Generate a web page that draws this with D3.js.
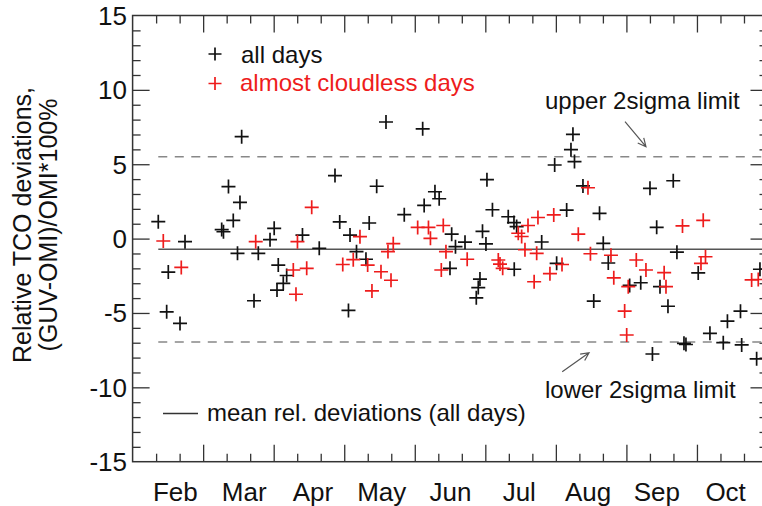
<!DOCTYPE html>
<html><head><meta charset="utf-8">
<script src="https://cdn.jsdelivr.net/npm/d3@7"></script>
<style>
body{margin:0;background:#fff}
svg{display:block}
text{font-family:"Liberation Sans",Arial,Helvetica,sans-serif}
</style>
</head><body>
<svg id="chart" width="762" height="506"></svg>
<script>
// ---- data ----
const months = ["Feb","Mar","Apr","May","Jun","Jul","Aug","Sep","Oct"];
const monthStart = 2;           // 2 = start of February, 11 = start of November
const yTicks = [-15,-10,-5,0,5,10,15];

// x: fractional month position, y: relative deviation (%)
const allDaysX = [2.364,2.743,2.506,2.483,2.672,3.546,3.359,3.522,3.427,3.263,3.288,3.487,3.721,3.782,3.948,4.007,4.065,4.184,4.136,4.047,
  4.408,4.646,4.869,4.936,5.082,5.060,5.174,5.308,5.354,5.460,5.592,6.112,5.851,6.133,6.286,6.346,6.523,6.577,6.712,6.499,
  6.924,6.900,6.872,7.023,7.101,6.960,7.009,7.325,7.406,7.444,7.410,7.799,8.011,7.983,8.153,8.242,8.214,8.264,8.384,8.619,
  8.672,8.743,8.537,9.046,9.203,9.334,9.664,9.429,9.716,9.476,9.589,10.018,9.369,9.816,9.844,10.184,10.373,10.432,10.617,10.634,
  10.846,10.893];
const allDaysY = [1.14,-0.21,-2.25,-4.92,-5.70,6.85,3.50,2.43,1.22,0.61,0.46,-0.99,-4.18,-0.99,-0.07,0.69,-1.78,-2.48,-3.01,-3.46,
  0.24,-0.65,4.24,1.12,0.24,-4.83,-0.88,-1.39,1.05,3.52,7.84,7.38,1.61,2.23,3.15,2.68,0.30,-0.54,-0.24,-2.00,
  -2.72,-3.29,-3.98,3.96,1.94,0.49,-0.36,1.47,1.08,0.81,-2.06,-0.23,-1.66,4.95,1.92,7.01,5.98,5.18,3.54,1.70,
  -0.32,-1.64,-4.20,-3.15,-2.97,3.38,3.89,0.76,-0.91,-3.23,-4.55,-2.31,-7.76,-7.04,-7.12,-6.37,-7.00,-5.55,-4.88,-7.15,
  -8.08,-2.06];

const clearDaysX = [2.435,2.690,3.745,4.278,4.468,4.316,4.337,4.539,4.979,5.128,5.223,5.332,5.393,5.521,5.663,5.620,5.695,6.041,6.194,6.222,
  6.404,6.442,6.376,6.743,7.184,7.208,7.246,7.467,7.515,7.562,7.605,7.746,7.970,7.728,7.692,7.916,8.087,8.318,8.455,8.490,
  8.781,8.821,8.975,9.004,9.140,9.277,9.026,9.535,9.561,9.795,10.089,10.121,10.057,10.775,10.869];
const clearDaysY = [-0.16,-1.94,-0.21,-2.11,-2.00,-3.74,-0.21,2.10,-1.74,-1.42,0.13,-1.78,-3.52,-2.23,-2.80,-0.87,-0.34,0.75,0.75,0.02,
  0.88,-0.88,-2.11,-1.39,-1.44,-1.71,-2.00,0.36,0.14,-0.75,0.88,1.42,1.59,-0.99,-2.90,-2.36,-1.74,0.30,3.42,-1.02,
  -1.12,-2.64,-4.87,-6.48,-1.44,-2.11,-3.23,-2.29,-3.23,0.85,1.23,-1.22,-1.66,-2.78,-2.75];

const meanDev = -0.72;
const upper2Sigma = 5.5;
const lower2Sigma = -6.95;

const legendLabels = ["all days","almost cloudless days"];
const meanLabel = "mean rel. deviations (all days)";
const upperLabel = "upper 2sigma limit";
const lowerLabel = "lower 2sigma limit";
const yTitle = ["Relative TCO deviations,","(GUV-OMI)/OMI*100%"];

// ---- drawing ----
const RED = "#ee1c1c", BLACK = "#111";
const svg = d3.select("#chart");
const L = 132.6, R = 767.5, T = 15.5, B = 461.7;
const x = d3.scaleLinear().domain([monthStart, monthStart + months.length]).range([L, R]);
const y = d3.scaleLinear().domain([-15, 15]).range([B, T]);
// month label positions (labels sit slightly inside the month centres, as in the original)
const xLabel = d3.scaleBand().domain(months).range([141, 760]);

const majorX = d3.range(monthStart + 1, monthStart + months.length);
const minorX = [];
for (let m = monthStart; m < monthStart + months.length; m++) { minorX.push(m + 1/3, m + 2/3); }
const majorY = yTicks.slice(1, -1);
const minorY = d3.range(-14, 15).filter(v => v % 5 !== 0);

function styleAxis(g){
  g.select(".domain").remove();
  g.selectAll(".tick line").attr("stroke","#333").attr("stroke-width",1.3);
  g.selectAll(".tick text").remove();
}
svg.append("g").attr("transform",`translate(0,${B})`).call(d3.axisBottom(x).tickValues(majorX).tickSize(-17)).call(styleAxis);
svg.append("g").attr("transform",`translate(0,${B})`).call(d3.axisBottom(x).tickValues(minorX).tickSize(-8)).call(styleAxis);
svg.append("g").attr("transform",`translate(0,${T})`).call(d3.axisTop(x).tickValues(majorX).tickSize(-17)).call(styleAxis);
svg.append("g").attr("transform",`translate(0,${T})`).call(d3.axisTop(x).tickValues(minorX).tickSize(-8)).call(styleAxis);
svg.append("g").attr("transform",`translate(${L},0)`).call(d3.axisLeft(y).tickValues(majorY).tickSize(-17)).call(styleAxis);
svg.append("g").attr("transform",`translate(${L},0)`).call(d3.axisLeft(y).tickValues(minorY).tickSize(-8)).call(styleAxis);
svg.append("g").attr("transform",`translate(${R},0)`).call(d3.axisRight(y).tickValues(majorY).tickSize(-17)).call(styleAxis);
svg.append("g").attr("transform",`translate(${R},0)`).call(d3.axisRight(y).tickValues(minorY).tickSize(-8)).call(styleAxis);

svg.append("rect").attr("x",L).attr("y",T).attr("width",R-L).attr("height",B-T)
  .attr("fill","none").attr("stroke","#333").attr("stroke-width",1.5);

// tick labels
svg.append("g").selectAll("text").data(yTicks).join("text")
  .attr("x",127).attr("y",d=>y(d)).attr("dy","0.36em")
  .attr("text-anchor","end").attr("font-size",26).attr("fill","#111").text(d=>d);
svg.append("g").selectAll("text").data(months).join("text")
  .attr("x",d=>xLabel(d)+xLabel.bandwidth()/2).attr("y",501)
  .attr("text-anchor","middle").attr("font-size",26).attr("fill","#111").text(d=>d);

// y title
yTitle.forEach((t,i)=>{
  svg.append("text").attr("transform",`translate(${31+i*26},225) rotate(-90)`)
    .attr("text-anchor","middle").attr("font-size",25).attr("fill","#111").text(t);
});

// reference lines
const x0 = x(d3.min(allDaysX));
svg.append("line").attr("x1",x0).attr("x2",R).attr("y1",y(meanDev)).attr("y2",y(meanDev))
  .attr("stroke","#555").attr("stroke-width",1.6);
[upper2Sigma, lower2Sigma].forEach(v=>{
  svg.append("line").attr("x1",x0).attr("x2",R).attr("y1",y(v)).attr("y2",y(v))
    .attr("stroke","#888").attr("stroke-width",1.5).attr("stroke-dasharray","9,7.5");
});

// markers
const plus = "M-7,0H7M0,-7V7";
function drawPlus(xs, ys, color){
  svg.append("g").selectAll("path").data(xs.map((v,i)=>[v,ys[i]])).join("path")
    .attr("d",plus).attr("transform",d=>`translate(${x(d[0])},${y(d[1])})`)
    .attr("stroke",color).attr("stroke-width",1.7).attr("fill","none");
}
drawPlus(allDaysX, allDaysY, BLACK);
drawPlus(clearDaysX, clearDaysY, RED);

// legend
svg.append("path").attr("d","M-6.5,0H6.5M0,-6.5V6.5").attr("transform","translate(215,54)")
  .attr("stroke",BLACK).attr("stroke-width",1.7);
svg.append("path").attr("d","M-6.5,0H6.5M0,-6.5V6.5").attr("transform","translate(215,83.5)")
  .attr("stroke",RED).attr("stroke-width",1.7);
svg.append("text").attr("x",241).attr("y",62.5).attr("font-size",24).attr("fill",BLACK).text(legendLabels[0]);
svg.append("text").attr("x",240).attr("y",91).attr("font-size",24).attr("fill",RED).text(legendLabels[1]);
svg.append("line").attr("x1",163).attr("x2",198).attr("y1",413.5).attr("y2",413.5).attr("stroke","#333").attr("stroke-width",1.6);
svg.append("text").attr("x",207).attr("y",421).attr("font-size",24).attr("fill","#111").text(meanLabel);

// annotations
svg.append("text").attr("x",545).attr("y",108.5).attr("font-size",24).attr("fill","#111").text(upperLabel);
svg.append("text").attr("x",545).attr("y",398).attr("font-size",24).attr("fill","#111").text(lowerLabel);
function arrow(p0, p1){
  const [ax,ay]=p0,[bx,by]=p1;
  const a=Math.atan2(by-ay,bx-ax), h=9, s=0.45;
  const p = `M${ax},${ay}L${bx},${by}M${bx-h*Math.cos(a-s)},${by-h*Math.sin(a-s)}L${bx},${by}L${bx-h*Math.cos(a+s)},${by-h*Math.sin(a+s)}`;
  svg.append("path").attr("d",p).attr("stroke","#555").attr("stroke-width",1.2).attr("fill","none");
}
arrow([x(8.98),y(7.86)],[x(9.277),y(6.18)]);
arrow([x(8.09),y(-8.95)],[x(8.47),y(-7.67)]);
</script>
</body></html>
